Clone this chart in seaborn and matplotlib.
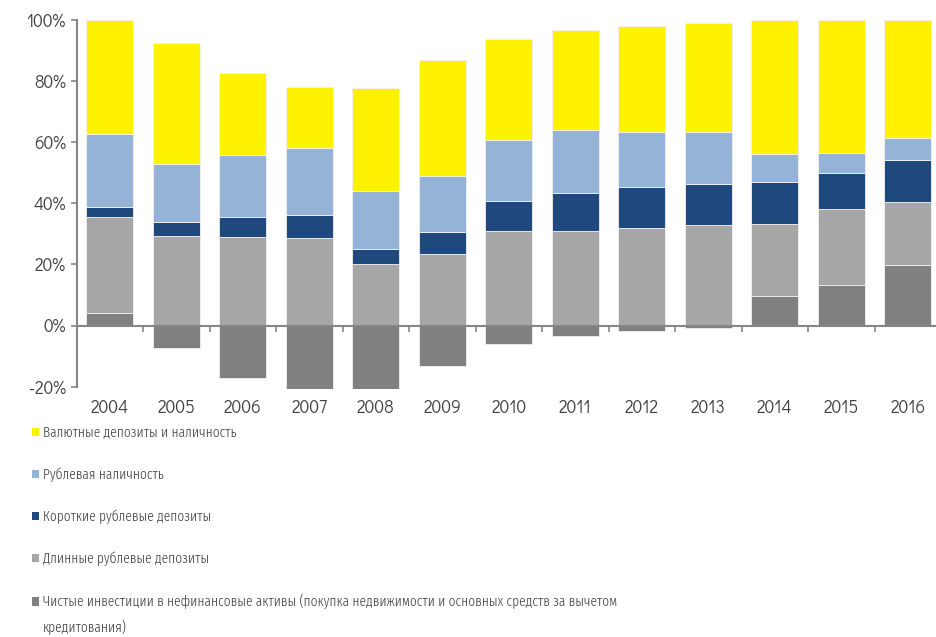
import matplotlib
matplotlib.use("Agg")
import matplotlib.pyplot as plt
import matplotlib.ticker as mticker
from matplotlib.patches import Patch, Rectangle
from matplotlib.legend_handler import HandlerPatch
import numpy as np
import pandas as pd
import seaborn as sns

years = ["2004", "2005", "2006", "2007", "2008", "2009", "2010",
         "2011", "2012", "2013", "2014", "2015", "2016"]
net_investments = [4.2, -7.3, -17.2, -21.9, -22.4, -13.1, -6.0, -3.3, -1.9, -0.9, 9.6, 13.4, 19.7]
long_deposits = [31.2, 29.4, 29.1, 28.7, 20.2, 23.3, 30.8, 31.1, 32.0, 32.8, 23.8, 24.9, 20.6]
short_deposits = [3.4, 4.5, 6.4, 7.4, 5.0, 7.3, 10.0, 12.3, 13.4, 13.6, 13.7, 11.6, 13.8]
ruble_cash = [24.0, 19.0, 20.2, 22.0, 18.7, 18.3, 20.0, 20.5, 17.9, 17.1, 9.1, 6.6, 7.3]
fx_deposits = [37.2, 39.7, 27.1, 20.0, 33.7, 38.0, 33.0, 32.8, 34.8, 35.5, 43.8, 43.5, 38.6]

labels = [
    "Валютные депозиты и наличность",
    "Рублевая наличность",
    "Короткие рублевые депозиты",
    "Длинные рублевые депозиты",
    "Чистые инвестиции в нефинансовые активы (покупка недвижимости и основных средств за вычетом\nкредитования)",
]
colors = ["#FFF200", "#95B3D7", "#1F497D", "#A6A6A6", "#808080"]

sns.set_theme(style="white")
plt.rcParams["font.family"] = ["Didact Gothic", "DejaVu Sans"]

fig = plt.figure(figsize=(9.37, 6.37), dpi=100)
ax = fig.add_axes([76.5 / 937, 1 - 388.5 / 637, 864.5 / 937, (388.5 - 20) / 637])

net = np.array(net_investments)
base = np.clip(net, 0, None)
layers = [
    (net_investments, np.zeros_like(net), colors[4]),
    (long_deposits, base, colors[3]),
]
b2 = base + np.array(long_deposits)
layers.append((short_deposits, b2, colors[2]))
b3 = b2 + np.array(short_deposits)
layers.append((ruble_cash, b3, colors[1]))
b4 = b3 + np.array(ruble_cash)
layers.append((fx_deposits, b4, colors[0]))

for vals, bottom, col in layers:
    df = pd.DataFrame({"year": years, "v": vals})
    sns.barplot(data=df, x="year", y="v", bottom=bottom, color=col,
                width=0.71, errorbar=None, saturation=1,
                edgecolor="#F2F2F2", linewidth=0.6, ax=ax)

ax.set_xlim(-0.5, 12.5)
ax.set_ylim(-20.6, 100)
ax.set_xlabel("")
ax.set_ylabel("")

axis_col = "#868686"
text_col = "#404040"
for s in ["top", "right"]:
    ax.spines[s].set_visible(False)
ax.spines["left"].set_color(axis_col)
ax.spines["left"].set_linewidth(1.5)
ax.spines["left"].set_bounds(-20, 100)
ax.spines["bottom"].set_position(("data", 0))
ax.spines["bottom"].set_color(axis_col)
ax.spines["bottom"].set_linewidth(1.5)

ax.set_yticks([-20, 0, 20, 40, 60, 80, 100])
ax.yaxis.set_major_formatter(mticker.FuncFormatter(lambda v, p: f"{v:.0f}%"))
ax.tick_params(axis="y", left=True, length=4.5, width=1.2, color=axis_col,
               labelsize=12.5, labelcolor=text_col, pad=3)

ax.set_xticks(range(len(years)))
ax.set_xticklabels(years)
ax.set_xticks(np.arange(len(years)) + 0.5, minor=True)
ax.tick_params(axis="x", which="major", bottom=False, length=0,
               labelsize=12.5, labelcolor=text_col, pad=53)
ax.tick_params(axis="x", which="minor", bottom=True, length=4.5, width=1.2,
               color=axis_col)


class RaisedHandler(HandlerPatch):
    def __init__(self, shift, **kw):
        super().__init__(**kw)
        self.shift = shift

    def create_artists(self, legend, orig_handle, xdescent, ydescent,
                       width, height, fontsize, trans):
        r = Rectangle((-xdescent, -ydescent + self.shift * fontsize), width, height,
                      facecolor=orig_handle.get_facecolor(), edgecolor="none",
                      transform=trans)
        return [r]


handles = [Patch(facecolor=c, edgecolor="none") for c in colors]
leg = fig.legend(handles, labels, loc="upper left",
                 bbox_to_anchor=(32 / 937, 1 - 426 / 637),
                 frameon=False, handlelength=0.5,
                 handleheight=0.5, handletextpad=0.25, labelspacing=1.88,
                 borderpad=0, borderaxespad=0,
                 handler_map={handles[4]: RaisedHandler(0.92)},
                 prop={"family": ["Fira Sans Extra Condensed", "DejaVu Sans"],
                       "size": 10.5, "weight": 300})
for t in leg.get_texts():
    t.set_color(text_col)
    t.set_linespacing(1.8)

fig.savefig("out.png", dpi=100)
